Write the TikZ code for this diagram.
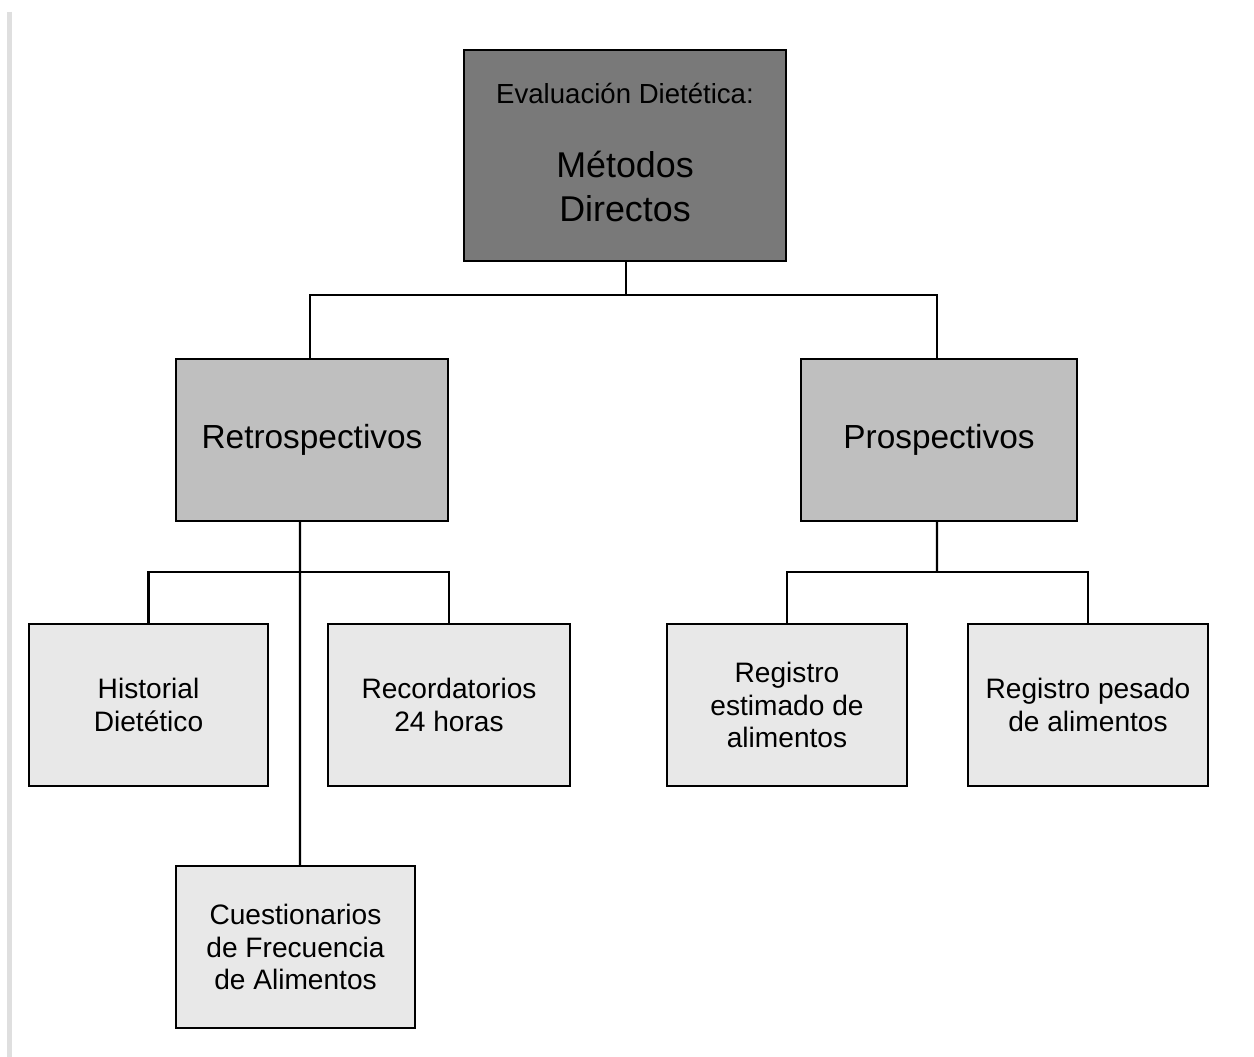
\documentclass[tikz,border=0pt]{standalone}
\usepackage{fontspec}
\setmainfont{Liberation Sans}
\definecolor{topgray}{RGB}{121,121,121}
\definecolor{midgray}{RGB}{191,191,191}
\definecolor{lightgray}{RGB}{232,232,232}
\tikzset{
  box/.style={draw=black, line width=1.3pt, align=center, inner sep=2pt, text=black},
  topbox/.style={box, fill=topgray, minimum width=6.44cm, minimum height=4.22cm,
     font=\fontsize{20.4}{25}\selectfont, text depth=4pt},
  midbox/.style={box, fill=midgray, minimum height=3.24cm,
     font=\fontsize{19}{23}\selectfont},
  leafbox/.style={box, fill=lightgray, minimum width=4.8cm, minimum height=3.24cm,
     font=\fontsize{16}{18.4}\selectfont},
  conn/.style={draw=black, line width=1.3pt}
}
\begin{document}
\begin{tikzpicture}[x=0.02cm,y=-0.02cm]
\useasboundingbox[fill=white] (0,0) rectangle (1254,1057);
\draw[line width=2.5pt, gray!25] (9.5,12) -- (9.5,1057);

\node[topbox] (top) at (625,155.5)
  {{\fontsize{15.7}{18}\selectfont Evaluación Dietética:}\\[17.2pt]Métodos\\Directos};

\node[midbox, minimum width=5.44cm] (retro) at (312,440) {Retrospectivos};
\node[midbox, minimum width=5.52cm] (prosp) at (939,440) {Prospectivos};

\node[leafbox, minimum width=4.78cm] (hist) at (148.5,705) {Historial\\Dietético};
\node[leafbox, minimum width=4.84cm] (recor) at (449,705) {Recordatorios\\24 horas};
\node[leafbox] (regest) at (787,705) {Registro\\estimado de\\alimentos};
\node[leafbox] (regpes) at (1088,705) {Registro pesado\\de alimentos};
\node[leafbox, minimum width=4.78cm] (cuest) at (295.5,947)
  {Cuestionarios\\de Frecuencia\\de Alimentos};

\coordinate (topbar) at (626,295);
\coordinate (retrobar) at (300,572);
\coordinate (prospbar) at (937,572);

\draw[conn] ([xshift=0.02cm]top.south) -- ([xshift=0.02cm]top.south |- topbar);
\draw[conn] ([xshift=-0.04cm]retro.north) |- (topbar) -| ([xshift=-0.04cm]prosp.north);

\draw[conn] ([xshift=-0.24cm]retro.south) -- ([xshift=0.09cm]cuest.north);
\draw[conn] (hist.north) |- (retrobar) -| (recor.north);

\draw[conn] ([xshift=-0.04cm]prosp.south) -- (prospbar);
\draw[conn] (regest.north) |- (prospbar) -| (regpes.north);
\end{tikzpicture}
\end{document}
